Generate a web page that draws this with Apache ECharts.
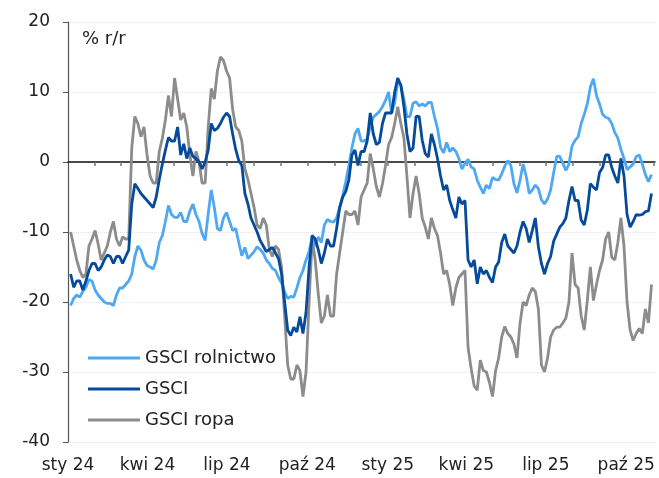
<!DOCTYPE html>
<html>
<head>
<meta charset="utf-8">
<script src="https://cdn.jsdelivr.net/npm/echarts@6/dist/echarts.min.js"></script>
<style>
  html, body { margin: 0; padding: 0; background: #fff; }
  #chart { width: 659px; height: 478px; }
</style>
</head>
<body>
<div id="chart"></div>
<script>
// observations every 3.5 days, first one on 2024-01-04
const firstDate = '2024-01-04';
const stepDays = 3.5;

const quarterLabels = ['sty 24', 'kwi 24', 'lip 24', 'paź 24', 'sty 25', 'kwi 25', 'lip 25', 'paź 25'];
const quarterDates = ['2024-01-01', '2024-04-01', '2024-07-01', '2024-10-01', '2025-01-01', '2025-04-01', '2025-07-01', '2025-10-01'];
const axisEnd = '2025-11-03';

const seriesNames = ['GSCI rolnictwo', 'GSCI', 'GSCI ropa'];

const agri = [
  -20.5, -19.5, -19, -19.3, -18.5, -17.9, -16.8, -17, -18.3, -19,
  -19.5, -20, -20.2, -20.2, -20.5, -19, -18, -18, -17.5, -17,
  -16, -13.5, -12, -12.6, -14, -14.8, -15, -15.3, -14, -11.5,
  -10.5, -8.5, -6.2, -7.5, -7.9, -7.9, -7.2, -8.5, -8.5, -7,
  -6, -7.5, -8.5, -10.2, -11.2, -7.4, -4, -6.5, -9.5, -9.8,
  -8, -7.2, -8.5, -9.8, -9.5, -11.5, -13.4, -12.2, -13.8, -13.3,
  -12.8, -12.1, -12.5, -13, -14, -14.5, -15.2, -15.5, -16.5, -17.3,
  -18.6, -19.5, -19.2, -19.3, -18, -16.5, -15.5, -14, -12.8, -10.7,
  -12, -10.7, -11.5, -9, -8.2, -8.5, -8.6, -8, -6.5, -4.8,
  -2.8, -0.5, 2, 4, 4.8, 3, 3, 3.3, 5, 6.4,
  6.8, 7.2, 7.9, 8.8, 10, 7, 8.5, 11.5, 11, 9,
  6.5, 6.5, 8.4, 8.6, 8, 8.3, 8, 8.5, 8.5, 6.5,
  4.8, 2.1, 1.3, 2.8, 1.5, 2, 1.5, 0.5, -1, -0.2,
  0.4, -0.7, -1, -2.6, -3.6, -4.5, -3.3, -3.8, -2.2, -2.5,
  -2.6, -1.7, -0.6, 0.2, -0.5, -3.1, -4.4, -2.6, -0.3, -2,
  -4.5, -4, -3.3, -3.8, -5.4, -6, -5.3, -4, -1.5, 0.8,
  0.8, -0.2, -1.2, -0.3, 2.3, 3.1, 3.6, 5.5, 6.8, 8.3,
  10.7, 11.9, 9.5, 8.3, 6.8, 6.4, 6.2, 5.5, 4.2, 3.4,
  1.8, 0.5, -1.1, -0.7, -0.3, 0.8, 1, -0.3, -1.8, -2.8,
  -1.8
];

const gsci = [
  -16, -17.9, -17, -17, -18.3, -17, -15.5, -14.5, -14.5, -15.5,
  -15, -14, -13.3, -13.5, -14.5, -13.5, -13.5, -14.5, -13.5, -12.6,
  -6, -3.1, -3.8, -4.5, -5, -5.5, -6, -6.5, -5, -2.5,
  -0.3, 1.7, 3.5, 3, 3, 5, 1, 2.6, 0.5, 2,
  0.8, 0.5, 0, -1, 0, 1.7, 5.5, 4.5, 4.8, 5.5,
  6.4, 7, 6.5, 4, 1.8, 0.2, -0.5, -4.5, -6, -8,
  -9, -10, -11.2, -12, -12.8, -12.5, -12.2, -13, -13.8, -16,
  -20, -24, -24.8, -23.6, -24.3, -22.1, -24.5, -21.5, -15, -10.5,
  -11, -12.5, -14.5, -13, -11, -12, -12, -9.5, -6.5, -5,
  -4.2, -2.6, 1, 1.7, -0.5, 1.5, 1.5, 3, 7, 4,
  2.5, 2.8, 5.5, 7, 7, 7, 10, 12, 11, 8,
  4, 1.5, 2, 6.5, 6.5, 3.1, 1.2, 0.7, 4, 2.5,
  0.5, -2, -4, -3.3, -5.5, -6.8, -8, -5, -6, -5.5,
  -14, -15, -14, -17.4, -15, -16, -15.5, -16.5, -17.2, -15,
  -14.3, -11.5, -10.3, -12, -12.5, -13, -12, -10, -8.5, -9.5,
  -11.5, -9.8, -8, -12.1, -14.5, -16, -14.5, -13.5, -11.3, -10.3,
  -9.3, -8.8, -8, -5.5, -3.5, -5.5, -5.5, -8.3, -9, -6.9,
  -3.1, -3.6, -4, -1.5, -0.8, 1, 1, -0.8, -2, -3,
  0.5, -2, -7.5, -9.3, -8.5, -7.5, -7.6, -7.5, -7.1, -7,
  -4.5
];

const oil = [
  -10, -12, -14, -15.5, -16.5, -16, -12, -11, -9.8, -11.7,
  -14, -13, -12, -10, -8.5, -11, -12, -10.7, -11, -11,
  2, 6.5, 5.5, 3.6, 5, 1, -2, -3, -3, 1.5,
  3.4, 6, 9.5, 6.5, 12, 9, 6, 7, 5, 1,
  -2, 1.5, 0, -3, -3, 5, 10.5, 9, 13, 15,
  14.5, 13, 12, 7.5, 5, 4.5, 3, -1, -2.5, -4.5,
  -6.5, -9, -9.5, -8, -9, -12.5, -13.5, -12, -12.5, -15,
  -22, -29, -31, -31, -29, -29.8, -33.5, -30, -20, -11,
  -14, -18.8, -23, -22, -19, -22, -22, -16, -13, -10,
  -7, -7.5, -7.5, -7, -9, -5, -4, -3, 1.2, -1,
  -3.5, -5, -3.1, -0.5, 2.5, 3.5, 5.5, 7.9, 5.5, 3.5,
  -2, -8, -4.5, -2, -4.5, -8, -9.3, -11, -8, -9.5,
  -10.5, -13, -16, -15.5, -17.5, -20.5, -18, -16.5, -16, -15.5,
  -26.5, -29.5, -32, -32.6, -28.3, -29.8, -30, -31.5, -33.5, -29.8,
  -28, -25, -23.5, -24.5, -25, -26, -28, -23, -20, -20.5,
  -19, -18, -18.5, -21, -29, -30, -28, -25, -24, -23.6,
  -23.6, -23, -22.3, -20, -13, -17.5, -18, -22, -24, -19.8,
  -15, -19.8, -17.5, -15.5, -14, -11, -10, -13.6, -14, -11.5,
  -8, -12, -20, -24, -25.5, -24.5, -23.8, -24.5, -21, -23,
  -17.5
];

const colors = ['#4ea9f2', '#064b99', '#8c8c8c'];
// drawing order: oil at the back, GSCI on top
const drawOrder = [2, 0, 1];

function dayOf(s) {
  const p = s.split('-').map(Number);
  return (Date.UTC(p[0], p[1] - 1, p[2]) - Date.UTC(2024, 0, 1)) / 86400000;
}

const startDay = dayOf(firstDate);
const days = agri.map((_, i) => startDay + i * stepDays);

const quarterDays = quarterDates.map(dayOf);
const monthDays = [];
for (let y = 2024; y <= 2025; y++) {
  for (let m = 0; m < 12; m++) {
    const d = (Date.UTC(y, m, 1) - Date.UTC(2024, 0, 1)) / 86400000;
    if (d > 0 && d <= dayOf(axisEnd)) monthDays.push(d);
  }
}

const font = 'DejaVu Sans';
const chart = echarts.init(document.getElementById('chart'));

const valueSets = [agri, gsci, oil];

chart.setOption({
  animation: false,
  backgroundColor: '#fff',
  textStyle: { fontFamily: font },
  grid: { left: 68, right: 4, top: 22, bottom: 36 },
  legend: {
    orient: 'vertical',
    left: 83,
    top: 343,
    icon: 'rect',
    itemWidth: 52,
    itemHeight: 3,
    itemGap: 11,
    textStyle: { fontFamily: font, fontSize: 18, color: '#222', lineHeight: 20 },
    data: seriesNames
  },
  graphic: [{
    type: 'text',
    left: 82,
    top: 30,
    style: { text: '% r/r', fontFamily: font, fontSize: 18, fill: '#222' }
  }],
  xAxis: [{
    type: 'value',
    min: 0,
    max: dayOf(axisEnd),
    axisLine: { show: false, onZero: false },
    axisTick: { show: false },
    splitLine: { show: false },
    axisLabel: {
      customValues: quarterDays,
      margin: 15,
      fontFamily: font,
      fontSize: 17,
      color: '#222',
      formatter: function (v) {
        const i = quarterDays.indexOf(v);
        return i >= 0 ? quarterLabels[i] : '';
      }
    }
  }, {
    type: 'value',
    position: 'bottom',
    min: 0,
    max: dayOf(axisEnd),
    axisLine: { show: true, onZero: true, lineStyle: { color: '#111', width: 1.5 } },
    axisTick: { show: true, customValues: monthDays, length: 4, lineStyle: { color: '#777', width: 1.5 } },
    axisLabel: { show: false },
    splitLine: { show: false }
  }],
  yAxis: {
    type: 'value',
    min: -40,
    max: 20,
    interval: 10,
    axisLine: { show: true, lineStyle: { color: '#555', width: 1.2 } },
    axisTick: { show: true, length: 5, lineStyle: { color: '#555' } },
    axisLabel: { margin: 18, fontFamily: font, fontSize: 17, color: '#222' },
    splitLine: { show: true, lineStyle: { color: '#e4e4e4', type: 'dotted' } }
  },
  series: seriesNames.map((name, s) => ({
    name: name,
    type: 'line',
    showSymbol: false,
    z: 2 + drawOrder.indexOf(s),
    color: colors[s],
    lineStyle: { width: 2.8, color: colors[s] },
    data: days.map((d, i) => [d, valueSets[s][i]])
  }))
});
</script>
</body>
</html>
